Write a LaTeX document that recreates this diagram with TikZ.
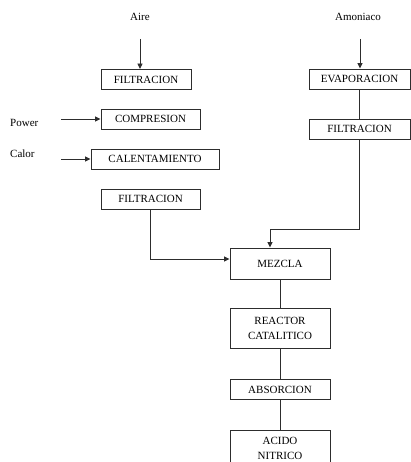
\documentclass[tikz,border=0pt]{standalone}
\usepackage{fontspec}
\setmainfont{Liberation Serif}
\usepackage{tikz}
\usetikzlibrary{positioning, arrows.meta}
\definecolor{linegray}{RGB}{45,45,45}

\begin{document}
\begin{tikzpicture}[x=1pt, y=-1pt, node distance=29pt,
  box/.style={draw=linegray, line width=0.9pt, minimum height=20pt, inner sep=1pt, align=center, font=\fontsize{11}{15}\selectfont},
  lbl/.style={font=\fontsize{11}{13}\selectfont, inner sep=0pt},
  arr/.style={-{Triangle[length=5.5pt, width=5pt]}, line width=0.9pt, color=linegray},
  ln/.style={line width=0.9pt, color=linegray}]
  \useasboundingbox (0,0) rectangle (411,462);
  \clip (0,0) rectangle (411,462);
  % left column: air
  \node[lbl] (aire) at (140,17) {Aire};
  \node[box, minimum width=90pt] (filtA) at (146,79.5) {FILTRACION};
  \node[box, minimum width=99pt] (compr) at (150.5,119) {COMPRESION};
  \node[box, minimum width=128pt] (calent) at (155,159) {CALENTAMIENTO};
  \node[box, minimum width=99pt] (filtB) at (150.5,199) {FILTRACION};
  \node[lbl, anchor=west] (power) at (10,123) {Power};
  \node[lbl, anchor=west] (calor) at (10,154) {Calor};
  % right column: ammonia
  \node[lbl] (amon) at (358,17) {Amoniaco};
  \node[box, minimum width=101pt] (evap) at (359.5,79) {EVAPORACION};
  \node[box, minimum width=101pt] (filtC) at (359.5,129) {FILTRACION};
  % main line
  \node[box, minimum width=100pt, minimum height=31pt] (mezcla) at (280,263.5) {MEZCLA};
  \node[box, minimum width=100pt, minimum height=40pt, below=29pt of mezcla] (reactor) {REACTOR\\CATALITICO};
  \node[box, minimum width=100pt, below=30pt of reactor] (absor) {ABSORCION};
  \node[box, minimum width=100pt, minimum height=36pt, below=30pt of absor] (acido) {ACIDO\\NITRICO};
  \coordinate (aireIn) at (140,39);
  \coordinate (amonIn) at (360,39);
  \coordinate (powerIn) at (61,119);
  \coordinate (calorIn) at (61,159);
  \draw[arr] (aireIn) -- (aireIn |- filtA.north);
  \draw[arr] (powerIn) -- (compr.west);
  \draw[arr] (calorIn) -- (calent.west);
  \draw[arr] (amonIn) -- (amonIn |- evap.north);
  \draw[ln] (evap) -- (filtC);
  \draw[arr] (filtC.south) -- ++(0,90) -| ([xshift=-10pt]mezcla.north);
  \draw[arr] (filtB.south) |- ([yshift=4.5pt]mezcla.west);
  \draw[ln] (mezcla) -- (reactor);
  \draw[ln] (reactor) -- (absor);
  \draw[ln] (absor) -- (acido);
\end{tikzpicture}
\end{document}
